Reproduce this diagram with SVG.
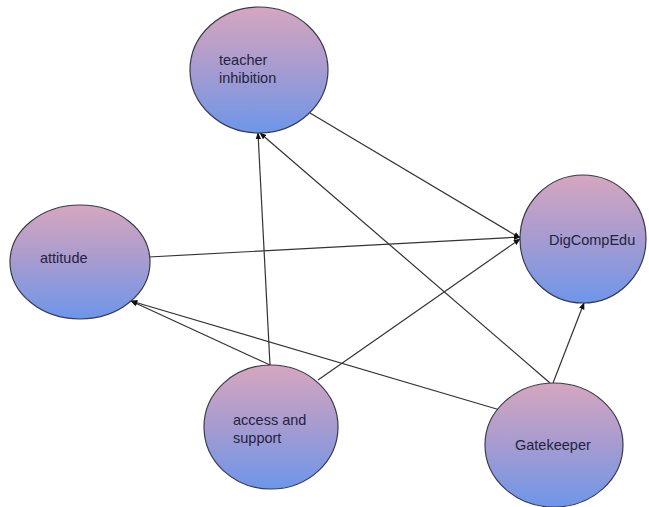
<svg xmlns="http://www.w3.org/2000/svg" width="649" height="507" viewBox="0 0 649 507">
  <defs>
    <linearGradient id="nodeFill" x1="0" y1="0" x2="0" y2="1">
      <stop offset="0" stop-color="#d6a6bf"/>
      <stop offset="0.5" stop-color="#a69bd0"/>
      <stop offset="1" stop-color="#6d96ea"/>
    </linearGradient>
    <marker id="arrow" viewBox="0 0 10 10" refX="9" refY="5" markerWidth="7" markerHeight="7" orient="auto" markerUnits="userSpaceOnUse">
      <path d="M0,1 L10,5 L0,9 Z" fill="#111"/>
    </marker>
  </defs>
  <style>
    .node ellipse { fill: url(#nodeFill); stroke: #3a3a48; stroke-width: 1.2; }
    .node text { font-family: "Liberation Sans", Arial, sans-serif; font-size: 14.5px; fill: #23233f; }
    .edges line { stroke: #333; stroke-width: 1.2; marker-end: url(#arrow); }
  </style>
  <rect width="649" height="507" fill="#fff"/>

  <g class="edges" id="connectors">
    <line x1="310" y1="113" x2="520" y2="238"/>
    <line x1="149" y1="257" x2="520" y2="237"/>
    <line x1="270" y1="365" x2="258" y2="133"/>
    <line x1="318" y1="380" x2="520" y2="239"/>
    <line x1="270" y1="365" x2="131" y2="301"/>
    <line x1="500" y1="410" x2="131" y2="301"/>
    <line x1="550" y1="383" x2="260" y2="133"/>
    <line x1="553" y1="383" x2="584" y2="303"/>
  </g>

  <g class="node" id="teacher-inhibition">
    <ellipse cx="259" cy="70" rx="69" ry="63"/>
    <text x="219" y="65">teacher</text>
    <text x="219" y="83">inhibition</text>
  </g>

  <g class="node" id="attitude">
    <ellipse cx="80" cy="262" rx="70" ry="57"/>
    <text x="40" y="263">attitude</text>
  </g>

  <g class="node" id="digcompedu">
    <ellipse cx="583" cy="239" rx="63" ry="64"/>
    <text x="549" y="245">DigCompEdu</text>
  </g>

  <g class="node" id="access-and-support">
    <ellipse cx="271" cy="427" rx="67" ry="62"/>
    <text x="233" y="425">access and</text>
    <text x="233" y="443">support</text>
  </g>

  <g class="node" id="gatekeeper">
    <ellipse cx="554" cy="445" rx="69" ry="62"/>
    <text x="515" y="450">Gatekeeper</text>
  </g>
</svg>
